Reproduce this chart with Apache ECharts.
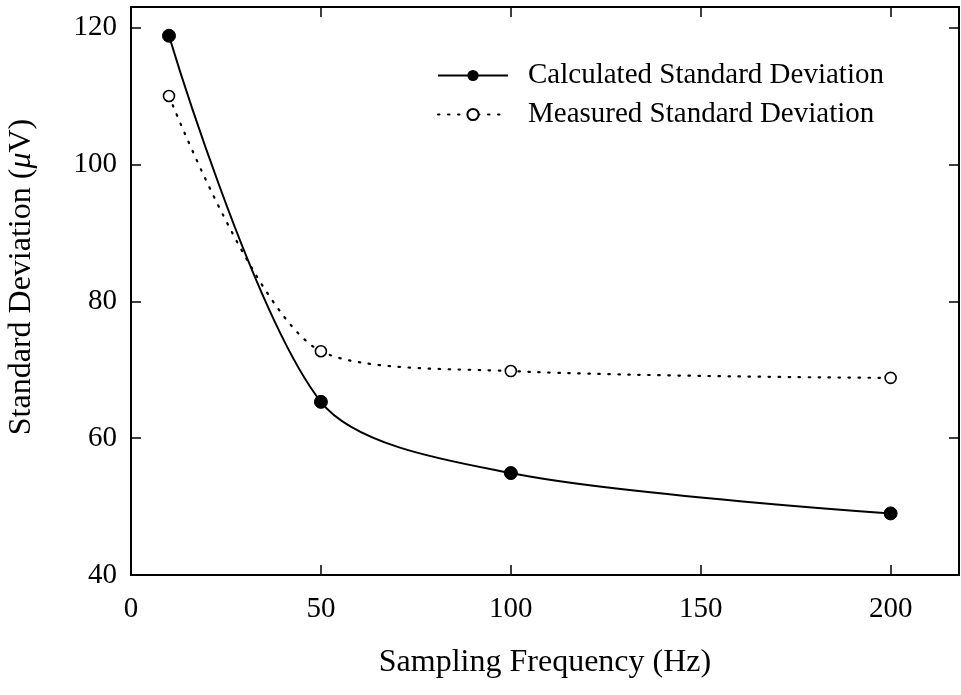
<!DOCTYPE html>
<html><head><meta charset="utf-8">
<script src="https://cdn.jsdelivr.net/npm/echarts@6/dist/echarts.min.js"></script>
<style>html,body{margin:0;padding:0;background:#fff}#c{width:961px;height:695px}</style>
</head><body><div id="c"></div>
<script>
const freqs = [10, 50, 100, 200];
const calculatedSD = [118.8, 65.3, 54.9, 49.0];
const measuredSD = [110.0, 72.7, 69.8, 68.8];
const xTicks = [0, 50, 100, 150, 200];
const yTicks = [40, 60, 80, 100, 120];
const seriesNames = ['Calculated Standard Deviation', 'Measured Standard Deviation'];

const font = 'Liberation Serif, Times New Roman, serif';
const chart = echarts.init(document.getElementById('c'), null, {renderer: 'canvas'});
const axisCommon = {
  axisLine: {show: true, onZero: false, lineStyle: {color: '#000', width: 2}},
  axisTick: {show: true, inside: true, length: 10, lineStyle: {color: '#000', width: 1.5}},
  splitLine: {show: false}
};
chart.setOption({
  animation: false,
  backgroundColor: '#fff',
  textStyle: {fontFamily: font, color: '#000'},
  grid: {left: 131, right: 2, top: 7, bottom: 120, containLabel: false, outerBoundsMode: 'none'},
  legend: {
    data: seriesNames,
    left: 437, top: 61, orient: 'vertical', padding: 0,
    itemWidth: 70, itemHeight: 14, itemGap: 10,
    textStyle: {fontFamily: font, fontSize: 29, color: '#000', padding: [0, 0, 0, 15]},
    inactiveColor: '#000'
  },
  xAxis: [
    Object.assign({}, axisCommon, {
      type: 'value', min: 0, max: 218, interval: 50, position: 'bottom',
      name: 'Sampling Frequency (Hz)', nameLocation: 'middle', nameGap: 72,
      nameTextStyle: {fontFamily: font, fontSize: 32, color: '#000'},
      axisLabel: {fontFamily: font, fontSize: 29, color: '#000', margin: 20,
        formatter: v => xTicks.includes(v) ? String(v) : ''}
    }),
    Object.assign({}, axisCommon, {
      type: 'value', min: 0, max: 218, interval: 50, position: 'top',
      axisLabel: {show: false}
    })
  ],
  yAxis: [
    Object.assign({}, axisCommon, {
      type: 'value', min: 40, max: 123, interval: 20, position: 'left',
      name: '{a|Standard Deviation (}{b|\u03bc}{a|V)}', nameLocation: 'middle', nameGap: 93,
      nameTextStyle: {fontFamily: font, fontSize: 32, color: '#000', padding: [0, 0, 0, 28],
        rich: {a: {fontFamily: font, fontSize: 32, color: '#000'},
               b: {fontFamily: font, fontSize: 32, color: '#000', fontStyle: 'italic'}}},
      axisLabel: {fontFamily: font, fontSize: 29, color: '#000', margin: 14,
        formatter: v => yTicks.includes(v) ? String(v) : ''}
    }),
    Object.assign({}, axisCommon, {
      type: 'value', min: 40, max: 123, interval: 20, position: 'right',
      axisLabel: {show: false}
    })
  ],
  series: [
    {
      name: seriesNames[0], type: 'line', smooth: 0.3,
      data: freqs.map((f, i) => [f, calculatedSD[i]]),
      symbol: 'circle', symbolSize: 13,
      itemStyle: {color: '#000', borderColor: '#000'},
      lineStyle: {color: '#000', width: 2}
    },
    {
      name: seriesNames[1], type: 'line', smooth: 0.3,
      data: freqs.map((f, i) => [f, measuredSD[i]]),
      symbol: 'circle', symbolSize: 11,
      itemStyle: {color: '#fff', borderColor: '#000', borderWidth: 1.6},
      lineStyle: {color: '#000', width: 2.2, type: [1.5, 8.5], cap: 'round'}
    }
  ]
});
</script></body></html>
